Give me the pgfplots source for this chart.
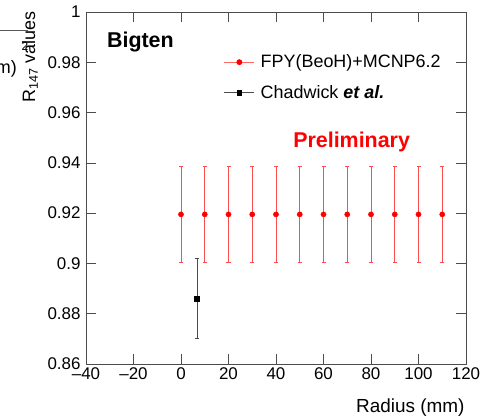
\documentclass[border=0pt]{standalone}
\usepackage{pgfplots}
\pgfplotsset{compat=1.18}
\usepackage{fontspec}
\setmainfont{Liberation Sans}
\begin{document}
\begin{tikzpicture}
\begin{axis}[
  name=ax, at={(0,0)}, anchor=south west,
  scale only axis, width=380bp, height=352bp,
  xmin=-40, xmax=120, ymin=0.86, ymax=1,
  xtick={-40,-20,...,120}, ytick={0.86,0.88,...,1.0},
  xticklabels={--40,--20,0,20,40,60,80,100,120},
  /pgf/number format/assume math mode=true,
  tick align=inside, tick pos=both, major tick length=10bp,
  axis line style={gray!60!black, line width=0.7pt}, tick style={gray!60!black, line width=0.7pt},
  ticklabel style={font=\fontsize{17}{19}\selectfont},
  yticklabel style={xshift=-2bp, /pgf/number format/fixed, /pgf/number format/precision=2},
  xlabel={Radius (mm)}, xlabel style={at={(rel axis cs:1,0)}, anchor=north east, yshift=-31bp, xshift=2bp, font=\fontsize{19}{21}\selectfont},
  clip=false,
  legend style={draw=none, fill=none, at={(axis cs:18,0.9838)}, anchor=north west, font=\fontsize{18}{20}\selectfont, row sep=12bp, inner sep=0pt},
  legend cell align=left,
  legend image code/.code={\draw[mark repeat=2,mark phase=2,#1] plot coordinates {(0bp,0bp)(15bp,0bp)(30bp,0bp)};},
]
\addplot+[forget plot, only marks, red, mark=*, mark size=2.6bp, mark options={fill=red, draw=red},
  error bars/.cd, y dir=both, y explicit, error bar style={red!70, line width=0.8pt}, error mark options={rotate=90, red!70, mark size=2bp, line width=0.8pt}]
  coordinates {
  (0,0.9195) +- (0,0.019)
  (10,0.9195) +- (0,0.019)
  (20,0.9195) +- (0,0.019)
  (30,0.9195) +- (0,0.019)
  (40,0.9195) +- (0,0.019)
  (50,0.9195) +- (0,0.019)
  (60,0.9195) +- (0,0.019)
  (70,0.9195) +- (0,0.019)
  (80,0.9195) +- (0,0.019)
  (90,0.9195) +- (0,0.019)
  (100,0.9195) +- (0,0.019)
  (110,0.9195) +- (0,0.019)
  };
\addplot+[forget plot, only marks, black, mark=square*, mark size=2.6bp, mark options={fill=black, draw=black},
  error bars/.cd, y dir=both, y explicit, error bar style={gray!60!black, line width=0.8pt}, error mark options={rotate=90, gray!60!black, mark size=2bp, line width=0.8pt}]
  coordinates {(6.7,0.886) +- (0,0.016)};
\addlegendimage{red!60, line width=0.8pt, mark=*, mark size=2.5bp, mark options={fill=red, draw=red}}
\addlegendentry{\hspace{4bp}FPY(BeoH)+MCNP6.2}
\addlegendimage{gray!60!black, line width=0.8pt, mark=square*, mark size=2.4bp, mark options={fill=black, draw=black}}
\addlegendentry{\hspace{4bp}Chadwick \textbf{\textit{et al.}}}
\node[anchor=base west, font=\bfseries\fontsize{21.5}{23}\selectfont, inner sep=0pt] at (axis cs:-31.2,0.9857) {Bigten};
\node[anchor=base west, font=\bfseries\fontsize{21.5}{23}\selectfont, text=red, inner sep=0pt] at (axis cs:47.2,0.9463) {Preliminary};
\end{axis}
\node[rotate=90, anchor=south east, font=\fontsize{18}{20}\selectfont, inner sep=0pt] at (-48bp,353bp) {R$_{\mathrm{147}}$ values};
\node[anchor=base east, font=\fontsize{18}{20}\selectfont, inner sep=0pt] at (-69bp,290bp) {(mm)};
\node[anchor=base, font=\fontsize{12}{14}\selectfont, inner sep=0pt] at (-61bp,313bp) {2};
\draw[gray!70!black, line width=0.7pt] (-90bp,334bp) -- (-58bp,334bp);
\pgfresetboundingbox
\path[use as bounding box] (-86bp,-54bp) rectangle (408bp,364bp);
\end{tikzpicture}
\end{document}
